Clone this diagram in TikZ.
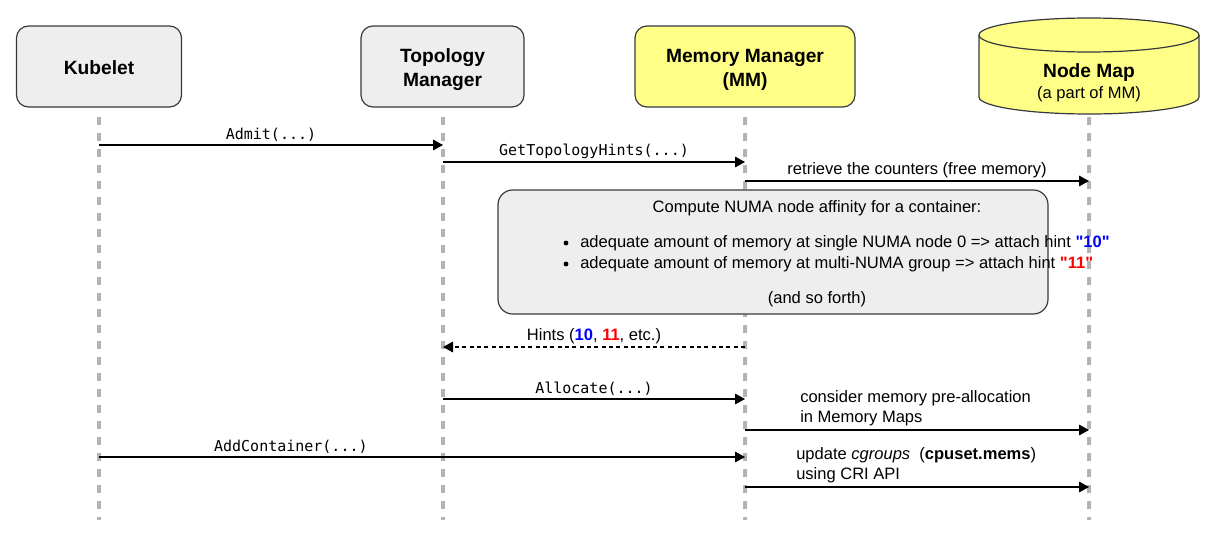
\documentclass[tikz,border=0pt]{standalone}
\usepackage{fontspec}
\setmainfont{Liberation Sans}
\setmonofont{DejaVu Sans Mono}
\usetikzlibrary{arrows.meta}
\definecolor{boxgray}{HTML}{EEEEEE}
\definecolor{boxyel}{HTML}{FFFF88}
\definecolor{edge}{HTML}{36393D}
\definecolor{lifegray}{HTML}{B3B3B3}
\definecolor{hblue}{HTML}{0000FF}
\definecolor{hred}{HTML}{FF0000}
\begin{document}
\begin{tikzpicture}[x=0.75pt,y=-0.75pt,
  actor/.style={draw=edge,line width=0.9pt,rounded corners=9pt,inner sep=0pt,
    minimum height=60.75pt},
  actortext/.style={align=center,inner sep=0pt,font=\fontsize{14.4}{18}\selectfont\bfseries},
  lifeline/.style={draw=lifegray,line width=2.4pt,dash pattern=on 6pt off 6pt},
  msg/.style={draw=black,line width=0.9pt,-{Triangle[length=7.5pt,width=8pt]}},
  reply/.style={msg,dash pattern=on 3pt off 2.5pt},
  mono/.style={font=\fontsize{11.25}{13}\selectfont\ttfamily,inner sep=0pt},
  txt/.style={font=\fontsize{12.4}{15}\selectfont,inner sep=0pt},
  dot/.style={circle,fill=black,inner sep=0pt,minimum size=3.6pt},
  lbl/.style={midway,yshift=8pt}
]
\useasboundingbox (0,0) rectangle (1217,543);

% actors
\node[actor,fill=boxgray,minimum width=123.75pt,
  label={[actortext,yshift=-1pt]center:Kubelet}] (kub) at (99,66.5) {};
\node[actor,fill=boxgray,minimum width=122.25pt,
  label={[actortext,yshift=-2.5pt]center:Topology\\Manager}] (top) at (442.5,66.5) {};
\node[actor,fill=boxyel,minimum width=165pt,
  label={[actortext,yshift=-2.5pt]center:Memory Manager\\(MM)}] (mm) at (745,66.5) {};

% Node Map cylinder
\path[fill=boxyel,draw=edge,line width=0.9pt]
  (979,35) -- (979,97) arc[start angle=180,end angle=0,x radius=110,y radius=17]
  -- (1199,35) arc[start angle=360,end angle=180,x radius=110,y radius=17] -- cycle;
\draw[edge,line width=0.9pt] (979,35) arc[start angle=180,end angle=0,x radius=110,y radius=17];
\node[font=\fontsize{14.4}{18}\selectfont\bfseries,inner sep=0pt] (nmap) at (1089,73) {Node Map};
\node[txt] (nmsub) at (1089,94) {(a part of MM)};

% lifelines
\coordinate (kubT) at (99,117);   \coordinate (kubB) at (99,520);
\coordinate (topT) at (443,117);  \coordinate (topB) at (443,520);
\coordinate (mmT) at (745,117);   \coordinate (mmB) at (745,520);
\coordinate (nmT) at (1089,117);  \coordinate (nmB) at (1089,520);
\draw[lifeline] (kubT) -- (kubB);
\draw[lifeline] (topT) -- (topB);
\draw[lifeline] (mmT) -- (mmB);
\draw[lifeline] (nmT) -- (nmB);

% message points
\coordinate (k1) at (99,145);  \coordinate (t1) at (443,145);
\coordinate (t2) at (443,162); \coordinate (m2) at (745,162);
\coordinate (m3) at (745,181); \coordinate (n3) at (1089,181);
\coordinate (m4) at (745,347); \coordinate (t4) at (443,347);
\coordinate (t5) at (443,399); \coordinate (m5) at (745,399);
\coordinate (m6) at (745,430); \coordinate (n6) at (1089,430);
\coordinate (k7) at (99,457);  \coordinate (m7) at (745,457);
\coordinate (m8) at (745,487); \coordinate (n8) at (1089,487);

\draw[msg] (k1) -- node[lbl,mono] {Admit(...)} (t1);
\draw[msg] (t2) -- node[lbl,mono] {GetTopologyHints(...)} (m2);
\draw[msg] (m3) -- node[lbl,txt] {retrieve the counters (free memory)} (n3);

% note
\node[draw=edge,line width=0.9pt,fill=boxgray,rounded corners=11pt,minimum width=412.5pt,minimum height=93pt] (note) at (773,252) {};
\node[txt] (nt) at (817,208) {Compute NUMA node affinity for a container:};
\node[dot] (bu1) at (566,243) {};
\node[txt,anchor=west] (b1) at (580,243) {adequate amount of memory at single NUMA node 0 => attach hint \textcolor{hblue}{\textbf{\textquotedbl10\textquotedbl}}};
\node[dot] (bu2) at (566,264) {};
\node[txt,anchor=west] (b2) at (580,264) {adequate amount of memory at multi-NUMA group => attach hint \textcolor{hred}{\textbf{\textquotedbl11\textquotedbl}}};
\node[txt] (nf) at (817,299) {(and so forth)};

\draw[reply] (m4) -- node[lbl,txt] {Hints (\textcolor{hblue}{\textbf{10}}, \textcolor{hred}{\textbf{11}}, etc.)} (t4);
\draw[msg] (t5) -- node[lbl,mono] {Allocate(...)} (m5);
\draw[msg] (m6) -- (n6);
\node[txt,anchor=west,align=left] (cons) at (800,408) {consider memory pre-allocation\\in Memory Maps};
\draw[msg] (k7) -- node[pos=0.297,yshift=8pt,mono] {AddContainer(...)} (m7);
\draw[msg] (m8) -- (n8);
\node[txt,anchor=west,align=left] (upd) at (796,465.5) {update \textit{cgroups}\ \ (\textbf{cpuset.mems})\\using CRI API};
\end{tikzpicture}
\end{document}
